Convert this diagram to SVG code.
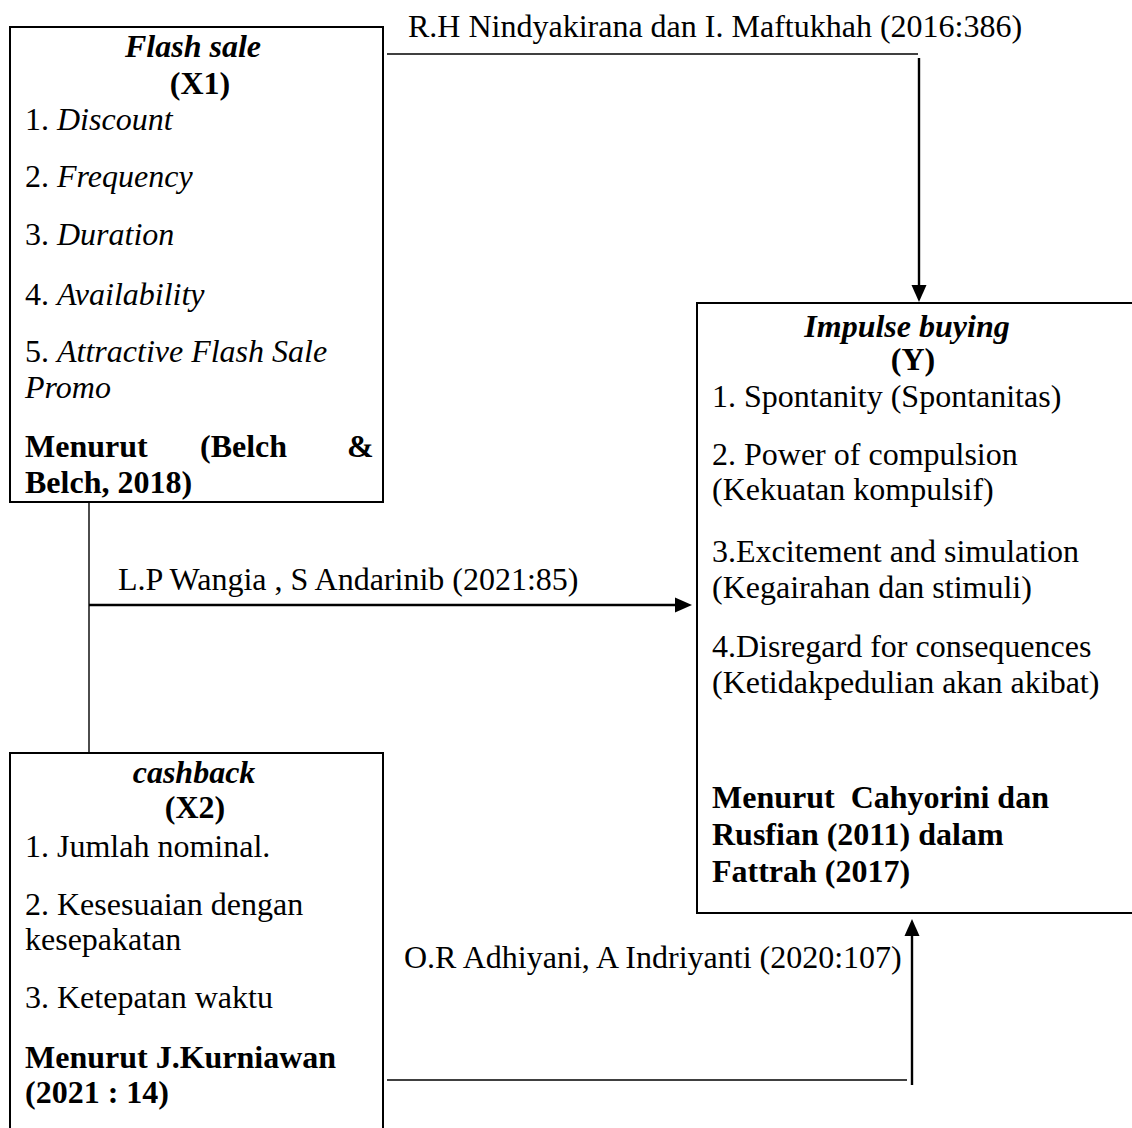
<svg xmlns="http://www.w3.org/2000/svg" width="1132" height="1128" viewBox="0 0 1132 1128">
<style>
text{font-family:"Liberation Serif","Times New Roman",serif;font-size:32px;fill:#000}
.b{font-weight:bold}
.i{font-style:italic}
.bi{font-weight:bold;font-style:italic}
.m{text-anchor:middle}
.box{fill:#fff;stroke:#000;stroke-width:2}
.ln{fill:none;stroke:#000;stroke-width:1.4}
.lt{fill:none;stroke:#000;stroke-width:2.4}
</style>
<rect width="1132" height="1128" fill="#fff"/>
<g id="connectors">
<line class="ln" x1="387" y1="54" x2="918" y2="54"/>
<line class="lt" x1="919" y1="58" x2="919" y2="286"/>
<path d="M911.5,285 L926.5,285 L919,302 Z" fill="#000"/>
<line class="ln" x1="89" y1="502" x2="89" y2="753"/>
<line class="lt" x1="89" y1="605" x2="676" y2="605"/>
<path d="M675,597.5 L675,612.5 L692,605 Z" fill="#000"/>
<line class="ln" x1="387" y1="1080" x2="907" y2="1080"/>
<line class="lt" x1="912" y1="1085" x2="912" y2="935"/>
<path d="M904.5,936 L919.5,936 L912,919 Z" fill="#000"/>
<text x="408" y="37">R.H Nindyakirana dan I. Maftukhah (2016:386)</text>
<text x="118" y="590">L.P Wangia , S Andarinib (2021:85)</text>
<text x="404" y="968">O.R Adhiyani, A Indriyanti (2020:107)</text>
</g>
<g id="flash-sale">
<rect class="box" x="10" y="27" width="373" height="475"/>
<text class="bi m" x="193" y="57">Flash sale</text>
<text class="b m" x="200" y="94">(X1)</text>
<text x="25" y="130">1. <tspan class="i">Discount</tspan></text>
<text x="25" y="187">2. <tspan class="i">Frequency</tspan></text>
<text x="25" y="245">3. <tspan class="i">Duration</tspan></text>
<text x="25" y="305">4. <tspan class="i">Availability</tspan></text>
<text x="25" y="362">5. <tspan class="i">Attractive Flash Sale</tspan></text>
<text class="i" x="25" y="398">Promo</text>
<text class="b" x="25" y="457">Menurut</text>
<text class="b" x="200" y="457">(Belch</text>
<text class="b" x="347" y="457">&amp;</text>
<text class="b" x="25" y="493">Belch, 2018)</text>
</g>
<g id="impulse-buying">
<rect class="box" x="697" y="303" width="450" height="610"/>
<text class="bi m" x="907" y="337">Impulse buying</text>
<text class="b m" x="913" y="370">(Y)</text>
<text x="712" y="407">1. Spontanity (Spontanitas)</text>
<text x="712" y="465">2. Power of compulsion</text>
<text x="712" y="500">(Kekuatan kompulsif)</text>
<text x="712" y="562">3.Excitement and simulation</text>
<text x="712" y="598">(Kegairahan dan stimuli)</text>
<text x="712" y="657">4.Disregard for consequences</text>
<text x="712" y="693">(Ketidakpedulian akan akibat)</text>
<text class="b" x="712" y="808" xml:space="preserve">Menurut  Cahyorini dan</text>
<text class="b" x="712" y="845">Rusfian (2011) dalam</text>
<text class="b" x="712" y="882">Fattrah (2017)</text>
</g>
<g id="cashback">
<rect class="box" x="10" y="753" width="373" height="400"/>
<text class="bi m" x="194" y="783">cashback</text>
<text class="b m" x="195" y="818">(X2)</text>
<text x="25" y="857">1. Jumlah nominal.</text>
<text x="25" y="915">2. Kesesuaian dengan</text>
<text x="25" y="950">kesepakatan</text>
<text x="25" y="1008">3. Ketepatan waktu</text>
<text class="b" x="25" y="1068">Menurut J.Kurniawan</text>
<text class="b" x="25" y="1103">(2021 : 14)</text>
</g>
</svg>
